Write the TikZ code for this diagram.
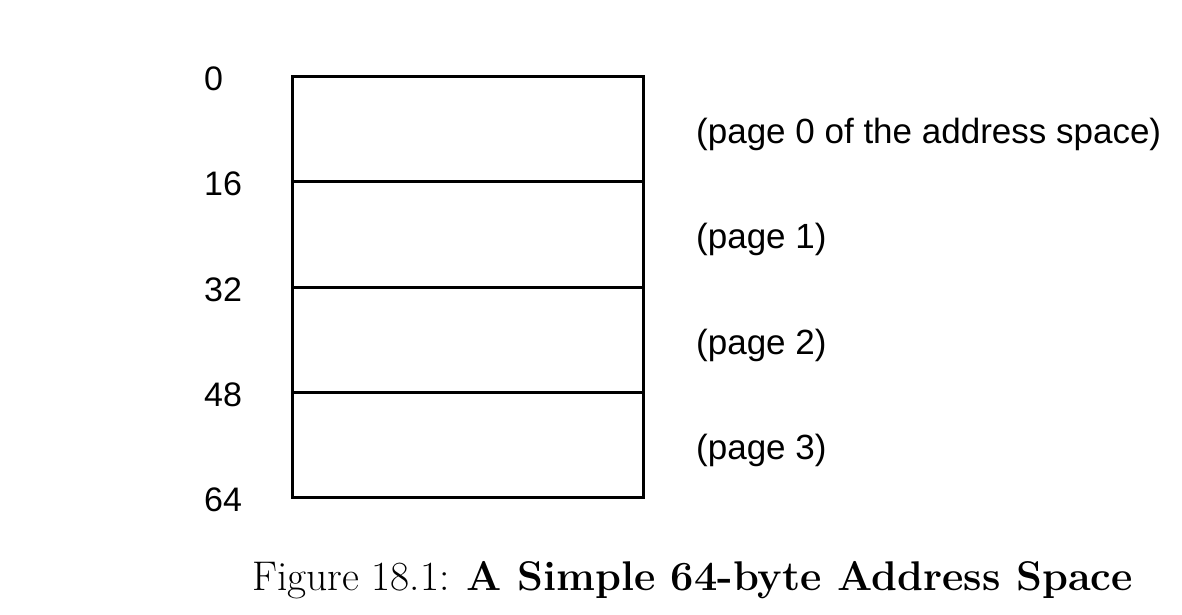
\documentclass[tikz,border=0pt]{standalone}
\usepackage{fontspec}
\newfontfamily\addrfont{Liberation Sans}
\usepackage{tikz}
\usetikzlibrary{positioning}

\begin{document}
\begin{tikzpicture}[
        x=1pt, y=-1pt,
        addr/.style={anchor=base west, inner sep=0pt, font=\addrfont\fontsize{34}{40}\selectfont},
        pagelbl/.style={anchor=base west, inner sep=0pt, font=\addrfont\fontsize{35}{41}\selectfont},
        figcap/.style={anchor=base west, inner sep=0pt, font=\fontsize{41.5}{48}\selectfont},
        frame/.style={line width=3pt, line cap=rect},
      ]
        \useasboundingbox (0,0) rectangle (1182,614);

        \coordinate (tl) at (292, 76);
        \coordinate (br) at (643, 497.5);
        \draw[frame] (tl) rectangle (br);
        \draw[frame] (292, 181.5) -- (643, 181.5);
        \draw[frame] (292, 287)   -- (643, 287);
        \draw[frame] (292, 392.5) -- (643, 392.5);

        \node[addr] (a0)  at (204, 90)    {0};
        \node[addr] (a16) at (204, 195.5) {16};
        \node[addr] (a32) at (204, 301)   {32};
        \node[addr] (a48) at (204, 406.5) {48};
        \node[addr] (a64) at (204, 511.5) {64};

        \node[pagelbl] (p0) at (696, 143)   {(page 0 of the address space)};
        \node[pagelbl] (p1) at (696, 248.5) {(page 1)};
        \node[pagelbl] (p2) at (696, 354)   {(page 2)};
        \node[pagelbl] (p3) at (696, 459.5) {(page 3)};

        \node[figcap] (caption) at (252, 590) {Figure 18.1: \textbf{A Simple 64-byte Address Space}};
      \end{tikzpicture}
\end{document}
